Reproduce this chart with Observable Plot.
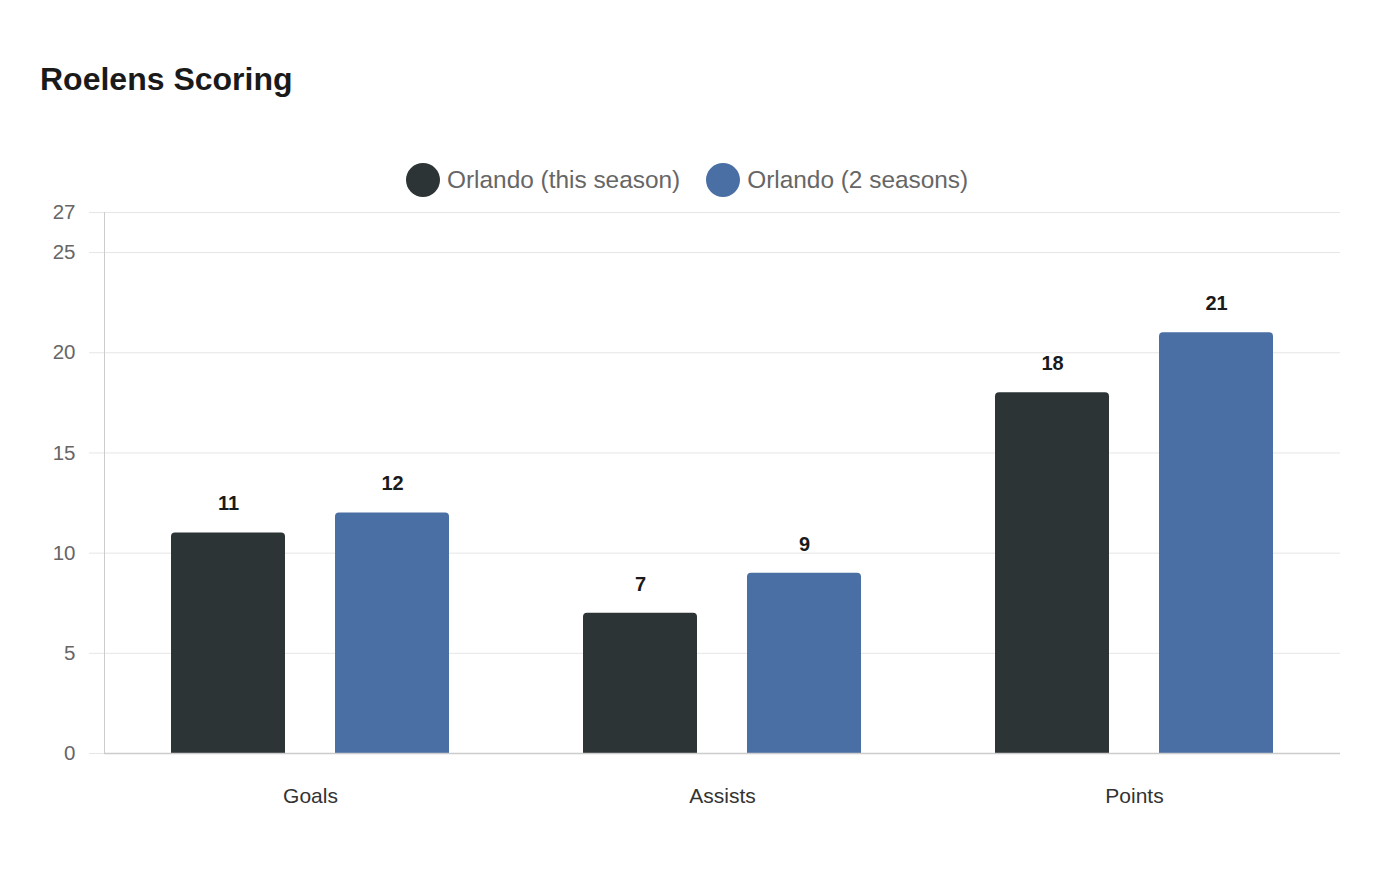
<!DOCTYPE html>
<html>
<head>
<meta charset="utf-8">
<script src="https://cdn.jsdelivr.net/npm/d3@7"></script>
<script src="https://cdn.jsdelivr.net/npm/@observablehq/plot@0.6"></script>
<style>
  html, body { margin: 0; padding: 0; background: #fff; }
  body { width: 1400px; height: 880px; position: relative; font-family: "Liberation Sans", Arial, sans-serif; }
  #title { position: absolute; left: 40px; top: 63px; font-size: 32px; line-height: 32px; font-weight: bold; color: #1a1a1a; }
  #legend { position: absolute; left: 406px; top: 163px; height: 34px; display: flex; align-items: center; font-size: 24.4px; color: #666; }
  .item { display: flex; align-items: center; margin-right: 26px; }
  .sw { width: 34px; height: 34px; border-radius: 50%; margin-right: 7px; }
  #chart { position: absolute; left: 0; top: 200px; }
</style>
</head>
<body>
<div id="title">Roelens Scoring</div>
<div id="legend"></div>
<div id="chart"></div>
<script>
const categories = ["Goals", "Assists", "Points"];
const series = ["Orlando (this season)", "Orlando (2 seasons)"];
const thisSeason = [11, 7, 18];
const twoSeasons = [12, 9, 21];
const colors = ["#2d3436", "#4a6fa5"];
const yTicks = [0, 5, 10, 15, 20, 25, 27];

const data = [];
categories.forEach((c, i) => {
  data.push({category: c, series: series[0], value: thisSeason[i]});
  data.push({category: c, series: series[1], value: twoSeasons[i]});
});

const legend = document.getElementById("legend");
series.forEach((s, i) => {
  const it = document.createElement("div");
  it.className = "item";
  it.innerHTML = `<div class="sw" style="background:${colors[i]}"></div><span>${s}</span>`;
  legend.appendChild(it);
});

const chart = Plot.plot({
  width: 1400,
  height: 640,
  marginLeft: 103,
  marginRight: 60,
  marginTop: 12,
  marginBottom: 87,
  style: {fontFamily: '"Liberation Sans", Arial, sans-serif', background: "#fff"},
  fx: {domain: categories, paddingInner: 0, paddingOuter: 0, label: null},
  x: {domain: series, paddingInner: 0.303, paddingOuter: 0.4, axis: null},
  y: {domain: [0, 27], axis: null},
  color: {domain: series, range: colors},
  marks: [
    Plot.gridY(yTicks, {stroke: "#e6e6e6", strokeOpacity: 1}),
    Plot.axisY(yTicks, {tickSize: 15, stroke: "#e6e6e6", strokeOpacity: 1, tickPadding: 14, fontSize: 20.5, fill: "#666", label: null}),
    Plot.frame({anchor: "left", facet: "super", stroke: "#ccc", strokeDasharray: "1,1"}),
    Plot.barY(data, {fx: "category", x: "series", y: "value", fill: "series", ry1: 4}),
    Plot.text(data, {fx: "category", x: "series", y: "value", text: d => String(d.value), dy: -29, fontSize: 20, fontWeight: "bold", fill: "#1a1a1a"}),
    Plot.ruleY([0], {stroke: "#ccc", strokeWidth: 1.5}),
    Plot.axisFx({anchor: "bottom", tickSize: 0, tickPadding: 35, fontSize: 21, fill: "#333", label: null})
  ]
});
document.getElementById("chart").appendChild(chart);
</script>
</body>
</html>
